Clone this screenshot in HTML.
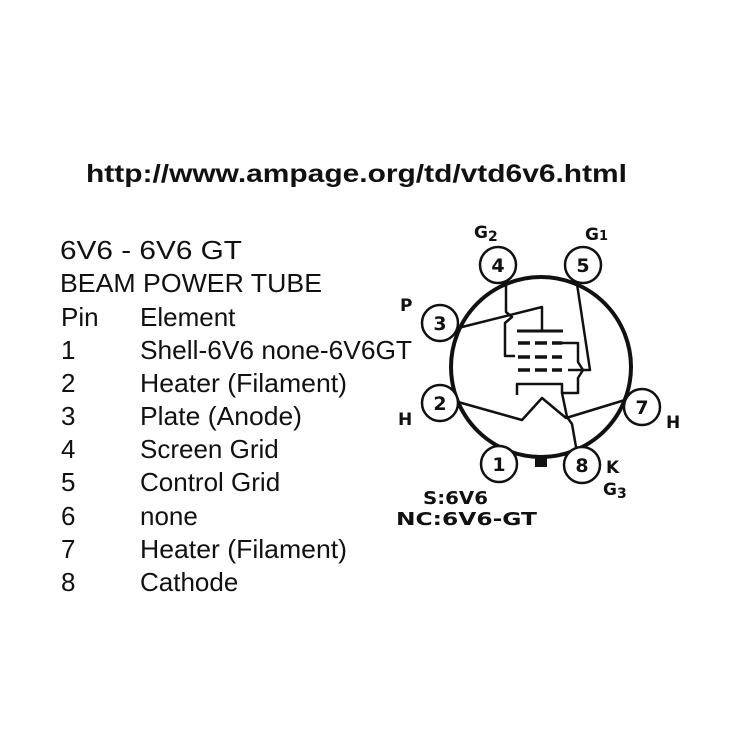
<!DOCTYPE html>
<html><head><meta charset="utf-8"><style>
html,body{margin:0;padding:0;background:#fff;}
svg{display:block;}
.t{font-family:"Liberation Sans",Arial,sans-serif;font-size:26px;fill:#111;}
.u{font-family:"Liberation Sans",Arial,sans-serif;font-size:25px;font-weight:bold;fill:#111;}
.l{font-family:"DejaVu Sans","Liberation Sans",sans-serif;font-weight:bold;fill:#111;}
</style></head><body>
<svg width="754" height="754" viewBox="0 0 754 754" xmlns="http://www.w3.org/2000/svg">
<rect width="754" height="754" fill="#fff"/>
<text class="u" x="86" y="182" textLength="541" lengthAdjust="spacingAndGlyphs">http://www.ampage.org/td/vtd6v6.html</text>
<g class="t">
<text x="60" y="259" textLength="182" lengthAdjust="spacingAndGlyphs">6V6 - 6V6 GT</text>
<text x="60" y="292" textLength="262" lengthAdjust="spacingAndGlyphs">BEAM POWER TUBE</text>
<text x="61" y="326">Pin</text><text x="140" y="326">Element</text>
<text x="61" y="359">1</text><text x="140" y="359" textLength="272" lengthAdjust="spacingAndGlyphs">Shell-6V6 none-6V6GT</text>
<text x="61" y="392">2</text><text x="140" y="392" textLength="207" lengthAdjust="spacingAndGlyphs">Heater (Filament)</text>
<text x="61" y="425">3</text><text x="140" y="425" textLength="162" lengthAdjust="spacingAndGlyphs">Plate (Anode)</text>
<text x="61" y="458">4</text><text x="140" y="458">Screen Grid</text>
<text x="61" y="491">5</text><text x="140" y="491">Control Grid</text>
<text x="61" y="525">6</text><text x="140" y="525">none</text>
<text x="61" y="558">7</text><text x="140" y="558" textLength="207" lengthAdjust="spacingAndGlyphs">Heater (Filament)</text>
<text x="61" y="591">8</text><text x="140" y="591">Cathode</text>
</g>
<g fill="none" stroke="#111" stroke-width="3">
<circle cx="541" cy="367" r="90" stroke-width="4"/>
</g>
<g fill="#fff" stroke="#111" stroke-width="2.5">
<circle cx="498" cy="265" r="18"/>
<circle cx="583" cy="265" r="18"/>
<circle cx="440" cy="323" r="18"/>
<circle cx="440" cy="403" r="18"/>
<circle cx="642" cy="407" r="18"/>
<circle cx="499" cy="464" r="18"/>
<circle cx="582" cy="465" r="18"/>
</g>
<rect x="535" y="455" width="12" height="12" fill="#111"/>
<g fill="none" stroke="#111" stroke-width="2.5" stroke-linejoin="round">
<polyline points="506,282 506,312 512,317 505,323 505,356 515,356"/>
<polyline points="458,328 542,307 542,330"/>
<line x1="517" y1="331" x2="563" y2="331" stroke-width="3"/>
<polyline points="562,343 578,343 578,362 583,370 578,378 578,393 562,393 562,384 517,384 517,395"/>
<polyline points="577,284 590,370 568,370"/>
<polyline points="458,402 522,420 542,398 566,418 625,400"/>
<polyline points="562,393 567,417 572,424 576,447"/>
</g>
<g stroke="#111" stroke-width="3.5">
<line x1="518" y1="343" x2="530" y2="343"/><line x1="535" y1="343" x2="547" y2="343"/><line x1="552" y1="343" x2="562" y2="343"/>
<line x1="518" y1="357" x2="530" y2="357"/><line x1="535" y1="357" x2="547" y2="357"/><line x1="552" y1="357" x2="562" y2="357"/>
<line x1="518" y1="370" x2="530" y2="370"/><line x1="535" y1="370" x2="547" y2="370"/><line x1="552" y1="370" x2="562" y2="370"/>
</g>
<g class="l" font-size="19" text-anchor="middle">
<text x="498" y="272">4</text><text x="583" y="272">5</text><text x="440" y="330">3</text>
<text x="440" y="410">2</text><text x="642" y="414">7</text><text x="499" y="471">1</text><text x="582" y="472">8</text>
</g>
<g class="l" font-size="17">
<text x="474" y="238">G<tspan font-size="14" dy="3">2</tspan></text>
<text x="585" y="240">G<tspan font-size="13">1</tspan></text>
<text x="400" y="311">P</text>
<text x="398" y="425">H</text>
<text x="666" y="428">H</text>
<text x="606" y="473">K</text>
<text x="603" y="495">G<tspan font-size="14" dy="3">3</tspan></text>
<text x="423" y="504" font-size="18" textLength="65" lengthAdjust="spacingAndGlyphs">S:6V6</text>
<text x="396" y="525" font-size="18" textLength="141" lengthAdjust="spacingAndGlyphs">NC:6V6-GT</text>
</g>
</svg>
</body></html>
